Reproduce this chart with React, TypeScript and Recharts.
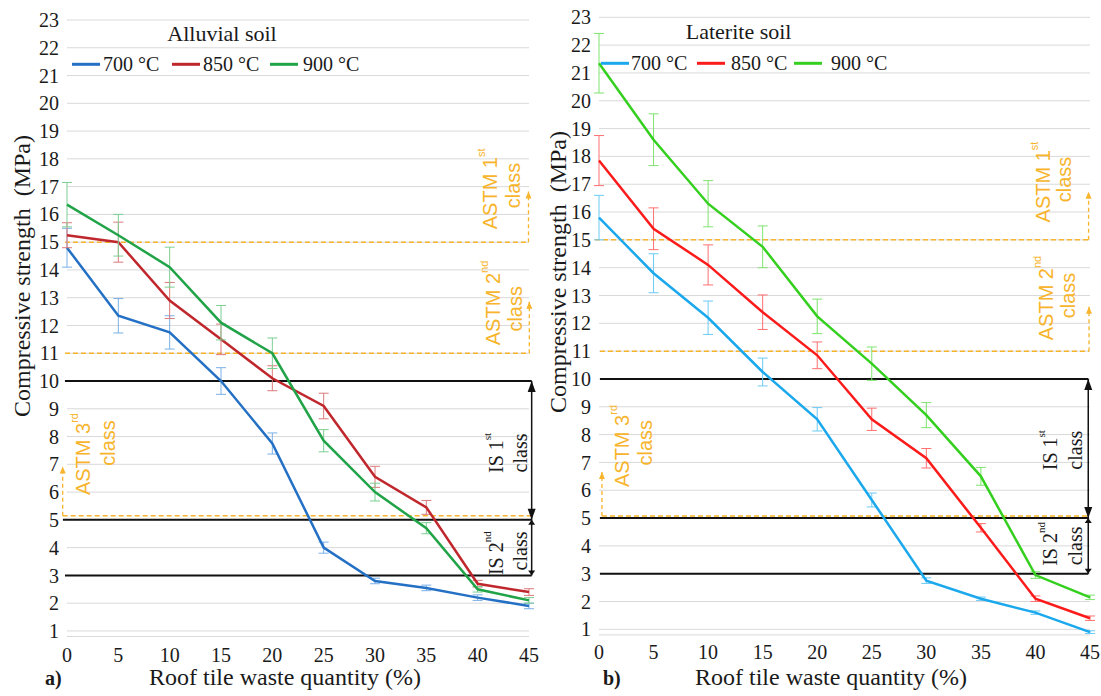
import React from 'react';
import { LineChart, Line, XAxis, YAxis, CartesianGrid, ErrorBar, ReferenceLine, ReferenceDot, Legend } from 'recharts';

// ---------- data ----------
const quantities = [0, 5, 10, 15, 20, 25, 30, 35, 40, 45];
const yTicks = [1, 2, 3, 4, 5, 6, 7, 8, 9, 10, 11, 12, 13, 14, 15, 16, 17, 18, 19, 20, 21, 22, 23];
const seriesNames = ['700 °C', '850 °C', '900 °C'];

const alluvial700 = [14.8, 12.35, 11.75, 10.0, 7.75, 4.0, 2.8, 2.55, 2.2, 1.9];
const alluvial850 = [15.25, 15.0, 12.9, 11.5, 10.1, 9.1, 6.55, 5.45, 2.7, 2.4];
const alluvial900 = [16.35, 15.25, 14.1, 12.1, 11.0, 7.85, 6.0, 4.7, 2.5, 2.1];
const alluvial700Err = [0.7, 0.62, 0.6, 0.48, 0.38, 0.2, 0.1, 0.1, 0.1, 0.1];
const alluvial850Err = [0.45, 0.72, 0.65, 0.55, 0.45, 0.46, 0.38, 0.25, 0.12, 0.12];
const alluvial900Err = [0.8, 0.75, 0.72, 0.62, 0.55, 0.4, 0.32, 0.2, 0.1, 0.1];

const laterite700 = [15.8, 13.8, 12.2, 10.25, 8.55, 5.65, 2.75, 2.1, 1.6, 0.9];
const laterite850 = [17.85, 15.4, 14.1, 12.4, 10.85, 8.55, 7.15, 4.65, 2.1, 1.4];
const laterite900 = [21.35, 18.6, 16.3, 14.75, 12.25, 10.55, 8.7, 6.5, 2.95, 2.15];
const laterite700Err = [0.8, 0.7, 0.6, 0.5, 0.42, 0.25, 0.1, 0.06, 0.06, 0.05];
const laterite850Err = [0.9, 0.75, 0.72, 0.62, 0.48, 0.4, 0.35, 0.15, 0.1, 0.08];
const laterite900Err = [1.07, 0.93, 0.83, 0.75, 0.62, 0.6, 0.45, 0.32, 0.12, 0.08];

// class thresholds (MPa)
const astm1 = 15;
const astm2 = 11;
const is1 = 10;
const is2 = 5;
const is2Low = 3;

const buildRows = (a: number[], ae: number[], b: number[], be: number[], c: number[], ce: number[]) =>
  quantities.map((q, i) => ({ q, s700: a[i], e700: ae[i], s850: b[i], e850: be[i], s900: c[i], e900: ce[i] }));

const alluvialRows = buildRows(alluvial700, alluvial700Err, alluvial850, alluvial850Err, alluvial900, alluvial900Err);
const lateriteRows = buildRows(laterite700, laterite700Err, laterite850, laterite850Err, laterite900, laterite900Err);

// ---------- styles ----------
const SERIF = "'Liberation Serif', 'Times New Roman', serif";
const SANS = "'Liberation Sans', Arial, sans-serif";
const ORANGE = '#f7b42c';
const TEXT = '#1a1a1a';

type Part = { t: string; sup?: boolean };

const rotText = (parts: Part[], size: number, family: string, color: string) => (props: any) => {
  const { cx, cy } = props;
  if (cx == null || cy == null) return <g />;
  return (
    <text
      transform={`rotate(-90 ${cx} ${cy})`}
      x={cx}
      y={cy}
      textAnchor="middle"
      fill={color}
      style={{ fontFamily: family, fontSize: size }}
    >
      {parts.map((p, i) =>
        p.sup ? (
          <tspan key={i} style={{ fontSize: size * 0.55 }} dy={-size * 0.6}>
            {p.t}
          </tspan>
        ) : (
          <tspan key={i}>{p.t}</tspan>
        )
      )}
    </text>
  );
};

const arrowShape = (color: string, width: number, dash: string | undefined, both: boolean, headLen: number, headW: number) => (
  props: any
) => {
  const { x1, y1, x2, y2 } = props;
  if ([x1, y1, x2, y2].some((v) => v == null || Number.isNaN(v))) return <g />;
  const head = (xt: number, yt: number, xf: number, yf: number) => {
    const dx = xt - xf;
    const dy = yt - yf;
    const len = Math.hypot(dx, dy) || 1;
    const ux = dx / len;
    const uy = dy / len;
    const bx = xt - ux * headLen;
    const by = yt - uy * headLen;
    const px = (-uy * headW) / 2;
    const py = (ux * headW) / 2;
    return <polygon points={`${xt},${yt} ${bx + px},${by + py} ${bx - px},${by - py}`} fill={color} />;
  };
  return (
    <g>
      <line x1={x1} y1={y1} x2={x2} y2={y2} stroke={color} strokeWidth={width} strokeDasharray={dash} />
      {head(x2, y2, x1, y1)}
      {both ? head(x1, y1, x2, y2) : null}
    </g>
  );
};

const plainLine = (color: string, width: number, dash?: string) => (props: any) => {
  const { x1, y1, x2, y2 } = props;
  if ([x1, y1, x2, y2].some((v) => v == null || Number.isNaN(v))) return <g />;
  return <line x1={x1} y1={y1} x2={x2} y2={y2} stroke={color} strokeWidth={width} strokeDasharray={dash} />;
};

const XTick = (props: any) => {
  const { x, y, payload } = props;
  return (
    <text x={x} y={y} dy="0.71em" textAnchor="middle" fill={TEXT} style={{ fontFamily: SERIF, fontSize: 20 }}>
      {payload?.value}
    </text>
  );
};

const YTick = (props: any) => {
  const { x, y, payload } = props;
  return (
    <text x={x} y={y} dy="0.355em" textAnchor="end" fill={TEXT} style={{ fontFamily: SERIF, fontSize: 20 }}>
      {payload?.value}
    </text>
  );
};

type TextSpec = { x: number; y: number; parts: Part[]; sans: boolean };

type PanelConfig = {
  title: string;
  tag: string;
  rows: any[];
  width: number;
  left: number;
  margin: { top: number; right: number; bottom: number; left: number };
  yAxisWidth: number;
  xTickMargin: number;
  colors: string[];
  errColors: string[];
  legend: { titleX: number; titleY: number; lineY: number; swatchX: number[]; textX: number[] };
  yTitle: { dx: number; cy: number };
  xTitle: { cxOffset: number; baseline: number; tagX: number };
  hLines: { y: number; x1: number; x2: number; color: string; w: number; dash?: string }[];
  arrows: { x: number; y1: number; y2: number; color: string; w: number; dash?: string; both: boolean; hl: number; hw: number }[];
  texts: TextSpec[];
};

const sup = (main: string, s: string): Part[] => [{ t: main }, { t: s, sup: true }];
const cls: Part[] = [{ t: 'class' }];

const leftPanel: PanelConfig = {
  title: 'Alluvial soil',
  tag: 'a)',
  rows: alluvialRows,
  width: 540,
  left: 0,
  margin: { top: 20, right: 11, bottom: 19.5, left: 0 },
  yAxisWidth: 67,
  xTickMargin: 5,
  colors: ['#2470c4', '#c0272d', '#21a348'],
  errColors: ['#7ab0e6', '#dc7a7a', '#7ccf93'],
  legend: { titleX: 222, titleY: 41, lineY: 64.3, swatchX: [72, 172, 270], textX: [103, 203, 303] },
  yTitle: { dx: 30, cy: 276 },
  xTitle: { cxOffset: -13, baseline: 685, tagX: 45 },
  hLines: [
    { y: astm1, x1: -0.2, x2: 44.95, color: ORANGE, w: 1.5, dash: '5 3' },
    { y: astm2, x1: -0.2, x2: 45.03, color: ORANGE, w: 1.5, dash: '5 3' },
    { y: is1, x1: -0.2, x2: 45.26, color: '#111', w: 2 },
    { y: is2, x1: -0.4, x2: 45.26, color: '#111', w: 2 },
    { y: is2Low, x1: -0.2, x2: 45.26, color: '#111', w: 2 },
    { y: 5.15, x1: -0.42, x2: 45.2, color: ORANGE, w: 1.5, dash: '5 3' },
  ],
  arrows: [
    { x: 44.95, y1: astm1, y2: 16.82, color: ORANGE, w: 1.3, dash: '4 3', both: false, hl: 7, hw: 6 },
    { x: 45.03, y1: astm2, y2: 12.85, color: ORANGE, w: 1.3, dash: '4 3', both: false, hl: 7, hw: 6 },
    { x: -0.42, y1: 5.15, y2: 6.92, color: ORANGE, w: 1.3, dash: '4 3', both: false, hl: 7, hw: 6 },
    { x: 45.26, y1: is2, y2: is1, color: '#111', w: 1.5, both: true, hl: 11, hw: 8 },
    { x: 45.26, y1: is2Low, y2: is2, color: '#111', w: 1.5, both: true, hl: 5, hw: 7 },
  ],
  texts: [
    { x: 41.88, y: 16.92, parts: sup('ASTM 1', 'st'), sans: true },
    { x: 44.12, y: 17.04, parts: cls, sans: true },
    { x: 42.17, y: 12.81, parts: sup('ASTM 2', 'nd'), sans: true },
    { x: 44.32, y: 12.6, parts: cls, sans: true },
    { x: 2.24, y: 7.37, parts: sup('ASTM 3', 'rd'), sans: true },
    { x: 4.68, y: 7.77, parts: cls, sans: true },
    { x: 42.47, y: 7.41, parts: sup('IS 1', 'st'), sans: false },
    { x: 44.8, y: 7.41, parts: cls, sans: false },
    { x: 42.47, y: 3.8, parts: sup('IS 2', 'nd'), sans: false },
    { x: 44.8, y: 3.88, parts: cls, sans: false },
  ],
};

const rightPanel: PanelConfig = {
  title: 'Laterite soil',
  tag: 'b)',
  rows: lateriteRows,
  width: 561,
  left: 540,
  margin: { top: 17.3, right: 11, bottom: 21.1, left: 0 },
  yAxisWidth: 59,
  xTickMargin: 3.4,
  colors: ['#1ba8ec', '#fb1b1b', '#35d01f'],
  errColors: ['#6ccaf5', '#ff7070', '#7ee46e'],
  legend: { titleX: 198.6, titleY: 39, lineY: 63.3, swatchX: [61, 157, 254], textX: [91, 191, 291] },
  yTitle: { dx: 26, cy: 272 },
  xTitle: { cxOffset: -13.5, baseline: 685, tagX: 63 },
  hLines: [
    { y: astm1, x1: -0.37, x2: 44.87, color: ORANGE, w: 1.5, dash: '5 3' },
    { y: astm2, x1: 0.09, x2: 44.91, color: ORANGE, w: 1.5, dash: '5 3' },
    { y: is1, x1: 0.09, x2: 44.84, color: '#111', w: 2 },
    { y: is2, x1: 0.09, x2: 44.84, color: '#111', w: 2 },
    { y: is2Low, x1: 0.09, x2: 44.84, color: '#111', w: 2 },
    { y: 5.07, x1: 0.27, x2: 44.84, color: ORANGE, w: 1.5, dash: '5 3' },
  ],
  arrows: [
    { x: 44.87, y1: astm1, y2: 16.73, color: ORANGE, w: 1.3, dash: '4 3', both: false, hl: 7, hw: 6 },
    { x: 44.91, y1: astm2, y2: 12.6, color: ORANGE, w: 1.3, dash: '4 3', both: false, hl: 7, hw: 6 },
    { x: 0.27, y1: 5.07, y2: 6.66, color: ORANGE, w: 1.3, dash: '4 3', both: false, hl: 7, hw: 6 },
    { x: 44.84, y1: is2, y2: is1, color: '#111', w: 1.5, both: true, hl: 11, hw: 8 },
    { x: 44.84, y1: is2Low, y2: is2, color: '#111', w: 1.5, both: true, hl: 5, hw: 7 },
  ],
  texts: [
    { x: 41.33, y: 17.08, parts: sup('ASTM 1', 'st'), sans: true },
    { x: 43.3, y: 17.17, parts: cls, sans: true },
    { x: 41.61, y: 12.91, parts: sup('ASTM 2', 'nd'), sans: true },
    { x: 43.6, y: 13.0, parts: cls, sans: true },
    { x: 2.75, y: 7.59, parts: sup('ASTM 3', 'rd'), sans: true },
    { x: 4.86, y: 7.71, parts: cls, sans: true },
    { x: 41.98, y: 7.44, parts: sup('IS 1', 'st'), sans: false },
    { x: 44.27, y: 7.44, parts: cls, sans: false },
    { x: 41.98, y: 4.07, parts: sup('IS 2', 'nd'), sans: false },
    { x: 44.27, y: 4.0, parts: cls, sans: false },
  ],
};

const Panel = ({ cfg }: { cfg: PanelConfig }) => {
  const keys = ['s700', 's850', 's900'];
  const errKeys = ['e700', 'e850', 'e900'];
  const height = 696;

  const legendContent = (props: any) => {
    const payload = props.payload || [];
    return (
      <svg width={cfg.width} height={80} style={{ display: 'block' }}>
        <text x={cfg.legend.titleX} y={cfg.legend.titleY} textAnchor="middle" fill={TEXT} style={{ fontFamily: SERIF, fontSize: 22 }}>
          {cfg.title}
        </text>
        {payload.map((p: any, i: number) => (
          <g key={i}>
            <line
              x1={cfg.legend.swatchX[i]}
              x2={cfg.legend.swatchX[i] + 28}
              y1={cfg.legend.lineY}
              y2={cfg.legend.lineY}
              stroke={p.color}
              strokeWidth={3}
            />
            <text x={cfg.legend.textX[i]} y={cfg.legend.lineY + 7} fill={TEXT} style={{ fontFamily: SERIF, fontSize: 20 }}>
              {p.value}
            </text>
          </g>
        ))}
      </svg>
    );
  };

  const yTitle = (props: any) => {
    const vb = props.viewBox || { x: 0, y: cfg.margin.top };
    const x = (vb.x ?? 0) + cfg.yTitle.dx;
    const y = cfg.yTitle.cy;
    return (
      <text
        transform={`rotate(-90 ${x} ${y})`}
        x={x}
        y={y}
        textAnchor="middle"
        fill={TEXT}
        style={{ whiteSpace: 'pre', fontFamily: SERIF, fontSize: 24 }}
      >
        {'Compressive strength  (MPa)'}
      </text>
    );
  };

  const xTitle = (props: any) => {
    const vb = props.viewBox || { x: cfg.yAxisWidth, width: cfg.width - cfg.yAxisWidth - cfg.margin.right };
    const cx = (vb.x ?? 0) + (vb.width ?? 0) / 2 + cfg.xTitle.cxOffset;
    return (
      <g>
        <text x={cfg.xTitle.tagX} y={cfg.xTitle.baseline} fill={TEXT} style={{ fontFamily: SERIF, fontSize: 20, fontWeight: 'bold' }}>
          {cfg.tag}
        </text>
        <text x={cx} y={cfg.xTitle.baseline} textAnchor="middle" fill={TEXT} style={{ fontFamily: SERIF, fontSize: 24 }}>
          Roof tile waste quantity (%)
        </text>
      </g>
    );
  };

  return (
    <div style={{ position: 'absolute', left: cfg.left, top: 0, width: cfg.width, height, fontFamily: SERIF }}>
      <LineChart width={cfg.width} height={height} data={cfg.rows} margin={cfg.margin} style={{ overflow: 'visible' }}>
        <CartesianGrid vertical={false} stroke="#d9d9d9" strokeWidth={1} />
        <XAxis
          dataKey="q"
          type="number"
          domain={[0, 45]}
          ticks={quantities}
          interval={0}
          axisLine={false}
          tickLine={false}
          tickMargin={cfg.xTickMargin}
          height={40}
          tick={<XTick />}
          label={{ content: xTitle }}
        />
        <YAxis
          type="number"
          domain={[0.8, 23]}
          ticks={yTicks}
          interval={0}
          axisLine={false}
          tickLine={false}
          width={cfg.yAxisWidth}
          tick={<YTick />}
          label={{ content: yTitle }}
        />
        <Legend
          layout="horizontal"
          verticalAlign="middle"
          align="center"
          content={legendContent}
          wrapperStyle={{ left: 0, top: 0, width: cfg.width, height: 80, margin: 0, padding: 0 }}
        />
        {cfg.hLines.map((h, i) => (
          <ReferenceLine
            key={`h${i}`}
            segment={[
              { x: h.x1, y: h.y },
              { x: h.x2, y: h.y },
            ]}
            ifOverflow="visible"
            stroke={h.color}
            shape={plainLine(h.color, h.w, h.dash)}
          />
        ))}
        {cfg.arrows.map((a, i) => (
          <ReferenceLine
            key={`a${i}`}
            segment={[
              { x: a.x, y: a.y1 },
              { x: a.x, y: a.y2 },
            ]}
            ifOverflow="visible"
            stroke={a.color}
            shape={arrowShape(a.color, a.w, a.dash, a.both, a.hl, a.hw)}
          />
        ))}
        {keys.map((k, i) => (
          <Line
            key={k}
            dataKey={k}
            name={seriesNames[i]}
            stroke={cfg.colors[i]}
            strokeWidth={2.5}
            dot={false}
            activeDot={false}
            isAnimationActive={false}
          >
            <ErrorBar dataKey={errKeys[i]} direction="y" width={5} strokeWidth={1} stroke={cfg.errColors[i]} isAnimationActive={false} />
          </Line>
        ))}
        {cfg.texts.map((t, i) => (
          <ReferenceDot
            key={`t${i}`}
            x={t.x}
            y={t.y}
            r={0}
            ifOverflow="visible"
            shape={rotText(t.parts, 20, t.sans ? SANS : SERIF, t.sans ? ORANGE : TEXT)}
          />
        ))}
      </LineChart>
    </div>
  );
};

export default function App() {
  return (
    <div style={{ position: 'absolute', left: 0, top: 0, width: 1101, height: 696, background: '#fff', overflow: 'hidden' }}>
      <Panel cfg={leftPanel} />
      <Panel cfg={rightPanel} />
    </div>
  );
}
